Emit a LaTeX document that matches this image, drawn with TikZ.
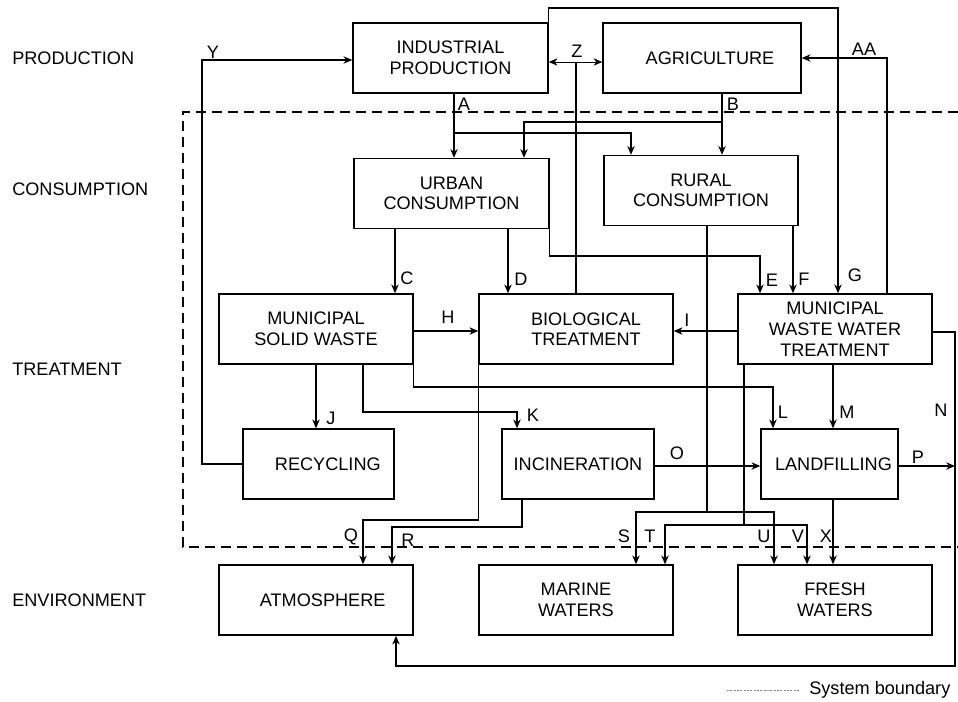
\documentclass[tikz,border=0pt]{standalone}
\usepackage{fontspec}
\setmainfont{Liberation Sans}
\usetikzlibrary{arrows.meta}
\begin{document}
\begin{tikzpicture}[x=0.75pt,y=-0.75pt,
  box/.style={draw,line width=1.1pt,fill=white,minimum height=52.5pt,inner sep=0pt,align=center,font=\fontsize{13.6}{15.5}\selectfont},
  lbl/.style={font=\fontsize{13.6}{15.5}\selectfont,inner sep=0pt},
  arr/.style={line width=1pt,-{Stealth[length=6.5pt,width=5.5pt,inset=2pt]}},
  dbl/.style={line width=0.7pt,{Stealth[length=6.5pt,width=5.5pt,inset=2pt]}-{Stealth[length=6.5pt,width=5.5pt,inset=2pt]}},
  ln/.style={line width=1pt},
  bnd/.style={line width=1pt,dash pattern=on 7.5pt off 4.5pt}]
\useasboundingbox (0,0) rectangle (958,701);

% system boundary
\draw[bnd] (958,112) -- (183,112) -- (183,547) -- (958,547);

% boxes
\node[box,minimum width=146.25pt] (ind) at (450.5,58) {INDUSTRIAL\\PRODUCTION};
\node[box,minimum width=148.5pt] (agr) at (702,58) {\hspace*{12pt}AGRICULTURE};
\node[box,minimum width=146.25pt] (urb) at (451.5,193.5) {URBAN\\CONSUMPTION};
\node[box,minimum width=145.5pt] (rur) at (701,190.5) {RURAL\\CONSUMPTION};
\node[box,minimum width=145.5pt] (msw) at (316,329) {MUNICIPAL\\SOLID WASTE};
\node[box,minimum width=145.5pt] (bio) at (576,329) {\hspace*{15pt}BIOLOGICAL\\\hspace*{15pt}TREATMENT};
\node[box,minimum width=145.5pt] (mww) at (835,329) {MUNICIPAL\\WASTE WATER\\TREATMENT};
\node[box,minimum width=113.25pt] (rec) at (318.5,464) {\hspace*{14pt}RECYCLING};
\node[box,minimum width=114pt] (inc) at (578,464) {INCINERATION};
\node[box,minimum width=102.75pt] (lan) at (829.5,464) {\hspace*{6pt}LANDFILLING};
\node[box,minimum width=145.5pt] (atm) at (316,600) {\hspace*{10pt}ATMOSPHERE};
\node[box,minimum width=145.5pt] (mar) at (576,600) {MARINE\\WATERS};
\node[box,minimum width=145.5pt] (fre) at (835,600) {FRESH\\WATERS};

% row labels
\node[lbl,anchor=west] (rp) at (12,58) {PRODUCTION};
\node[lbl,anchor=west] (rc) at (12,189) {CONSUMPTION};
\node[lbl,anchor=west] (rt) at (12,369) {TREATMENT};
\node[lbl,anchor=west] (re) at (12,600) {ENVIRONMENT};

% A
\coordinate (a1) at (454,133);
\coordinate (a2) at (631,0);
\draw[arr] (ind.south -| a1) -- (urb.north -| a1);
\draw[arr] (a1) -| (rur.north -| a2);
% B
\coordinate (b1) at (722,122);
\coordinate (b2) at (524,0);
\draw[arr] (agr.south -| b1) -- (rur.north -| b1);
\draw[arr] (b1) -| (urb.north -| b2);
% C, D
\coordinate (c1) at (395,0);
\coordinate (d1) at (508,0);
\draw[arr] (urb.south -| c1) -- (msw.north -| c1);
\draw[arr] (urb.south -| d1) -- (bio.north -| d1);
% E
\coordinate (e1) at (760,256);
\draw[arr] (urb.south east) |- (e1) -- (mww.north -| e1);
% F
\coordinate (f1) at (793,0);
\draw[arr] (rur.south -| f1) -- (mww.north -| f1);
% G
\coordinate (g1) at (838,8);
\draw[arr] (ind.north east) |- (g1) -- (mww.north -| g1);
% AA
\coordinate (aa1) at (887,0);
\draw[arr] (mww.north -| aa1) |- (agr.east);
% Z
\coordinate (z1) at (576,62);
\draw[dbl] (ind.east |- z1) -- (agr.west |- z1);
\draw[ln] (bio.north -| z1) -- (z1);
% H, I
\coordinate (h1) at (0,331);
\draw[arr] (msw.east |- h1) -- (bio.west |- h1);
\draw[arr] (mww.west |- h1) -- (bio.east |- h1);
% J
\coordinate (j1) at (316,0);
\draw[arr] (msw.south -| j1) -- (rec.north -| j1);
% K
\coordinate (k1) at (363,412);
\coordinate (k2) at (517,0);
\draw[arr] (msw.south -| k1) -- (k1) -| (inc.north -| k2);
% L
\coordinate (l1) at (773,387);
\draw[arr] (msw.south east) |- (l1) -- (lan.north -| l1);
% M
\coordinate (m1) at (833,0);
\draw[arr] (mww.south -| m1) -- (lan.north -| m1);
% N
\coordinate (n1) at (955,332);
\coordinate (n2) at (396,666);
\draw[arr] (mww.east |- n1) -- (n1) |- (n2) -- (atm.south -| n2);
% O
\coordinate (o1) at (0,466);
\draw[arr] (inc.east |- o1) -- (lan.west |- o1);
% P
\coordinate (p1) at (955,466);
\draw[arr] (lan.east |- p1) -- (p1);
% Q
\coordinate (q1) at (363,520);
\draw[arr] (bio.south west) |- (q1) -- (atm.north -| q1);
% R
\coordinate (r1) at (522,527);
\coordinate (r2) at (392,527);
\draw[arr] (inc.south -| r1) -- (r1) -- (r2) -- (atm.north -| r2);
% S, U
\coordinate (s0) at (707,512);
\coordinate (s1) at (636,512);
\coordinate (u1) at (774,512);
\draw[ln] (rur.south -| s0) -- (s0);
\draw[arr] (s0) -- (s1) -- (mar.north -| s1);
\draw[arr] (s0) -- (u1) -- (fre.north -| u1);
% T, V
\coordinate (t0) at (744,525);
\coordinate (t1) at (665,525);
\coordinate (v1) at (807,525);
\draw[ln] (mww.south -| t0) -- (t0);
\draw[arr] (t0) -- (t1) -- (mar.north -| t1);
\draw[arr] (t0) -- (v1) -- (fre.north -| v1);
% X
\coordinate (x1) at (833,0);
\draw[arr] (lan.south -| x1) -- (fre.north -| x1);
% Y
\coordinate (y1) at (202,60);
\draw[arr] (rec.west) -| (y1) -- (ind.west |- y1);

% flow labels
\node[lbl] (lY) at (213,52) {Y};
\node[lbl] (lZ) at (577,51) {Z};
\node[lbl] (lAA) at (864,49) {AA};
\node[lbl] (lA) at (464,104) {A};
\node[lbl] (lB) at (733,104) {B};
\node[lbl] (lC) at (407,278) {C};
\node[lbl] (lD) at (521,279) {D};
\node[lbl] (lE) at (772,280) {E};
\node[lbl] (lF) at (804,279) {F};
\node[lbl] (lG) at (855,275) {G};
\node[lbl] (lH) at (448,317) {H};
\node[lbl] (lI) at (687,320) {I};
\node[lbl] (lJ) at (331,418) {J};
\node[lbl] (lK) at (533,415) {K};
\node[lbl] (lL) at (783,412) {L};
\node[lbl] (lM) at (847,412) {M};
\node[lbl] (lN) at (941,410) {N};
\node[lbl] (lO) at (677,453) {O};
\node[lbl] (lP) at (918,457) {P};
\node[lbl] (lQ) at (351,537) {Q};
\node[lbl] (lR) at (408,540) {R};
\node[lbl] (lS) at (624,536) {S};
\node[lbl] (lT) at (650,536) {T};
\node[lbl] (lU) at (764,536) {U};
\node[lbl] (lV) at (798,536) {V};
\node[lbl] (lX) at (826,536) {X};

% legend
\coordinate (lg1) at (727,690);
\coordinate (lg2) at (800,690);
\draw[gray,line width=0.5pt,dash pattern=on 1.5pt off 1pt] (lg1) -- (lg2);
\node[lbl,anchor=west] (lgt) at (809,690) {System boundary};
\end{tikzpicture}
\end{document}
